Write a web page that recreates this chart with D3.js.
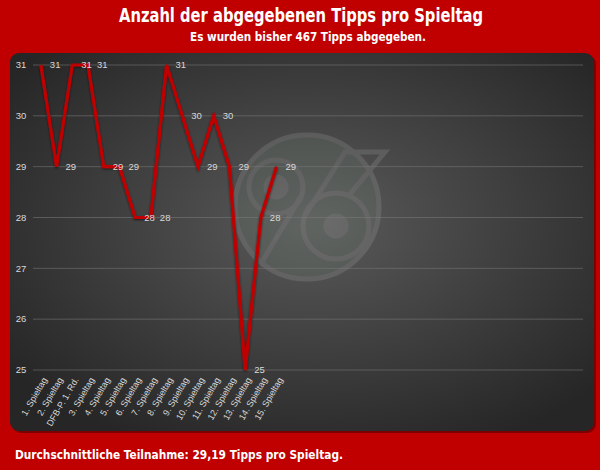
<!DOCTYPE html>
<html>
<head>
<meta charset="utf-8">
<script src="https://cdn.jsdelivr.net/npm/d3@7"></script>
<style>
  body { margin: 0; background: #c00000; }
  svg { display: block; }
</style>
</head>
<body>
<div id="chart"></div>
<script>
var categories = ["1. Spieltag", "2. Spieltag", "DFB-P. 1. Rd.", "3. Spieltag", "4. Spieltag",
    "5. Spieltag", "6. Spieltag", "7. Spieltag", "8. Spieltag", "9. Spieltag", "10. Spieltag",
    "11. Spieltag", "12. Spieltag", "13. Spieltag", "14. Spieltag", "15. Spieltag"];
var tipps = [31, 29, 31, 31, 29, 29, 28, 28, 31, 30, 29, 30, 29, 25, 28, 29];
var yTicks = [25, 26, 27, 28, 29, 30, 31];
// season has 34 Spieltage + Pokal round, the rest are still empty
var slotCount = 35;

var width = 600,
    height = 470;

var svg = d3.select("#chart").append("svg")
    .attr("width", width)
    .attr("height", height);

var defs = svg.append("defs");
var grad = defs.append("radialGradient")
    .attr("id", "panelGrad")
    .attr("cx", "52%").attr("cy", "45%").attr("r", "65%");
grad.append("stop").attr("offset", "0%").attr("stop-color", "#5a5a5a");
grad.append("stop").attr("offset", "100%").attr("stop-color", "#262626");

var shadow = defs.append("filter").attr("id", "lineShadow")
    .attr("x", "-10%").attr("y", "-10%").attr("width", "120%").attr("height", "120%");
shadow.append("feDropShadow")
    .attr("dx", 0).attr("dy", 1).attr("stdDeviation", 1)
    .attr("flood-color", "#000").attr("flood-opacity", 0.6);

svg.append("rect")
    .attr("width", width).attr("height", height)
    .attr("fill", "#c00000");

// titles
svg.append("text")
    .attr("x", 301).attr("y", 22)
    .attr("text-anchor", "middle")
    .attr("textLength", 364).attr("lengthAdjust", "spacingAndGlyphs")
    .style("font", "bold 19px 'Liberation Sans Narrow', 'DejaVu Sans Condensed', Roboto, sans-serif")
    .attr("fill", "#fff")
    .text("Anzahl der abgegebenen Tipps pro Spieltag");

svg.append("text")
    .attr("x", 308).attr("y", 41)
    .attr("text-anchor", "middle")
    .attr("textLength", 236).attr("lengthAdjust", "spacingAndGlyphs")
    .style("font", "bold 13px 'Liberation Sans Narrow', 'DejaVu Sans Condensed', Roboto, sans-serif")
    .attr("fill", "#fff")
    .text("Es wurden bisher " + d3.sum(tipps) + " Tipps abgegeben.");

// chart panel
svg.append("rect")
    .attr("x", 12).attr("y", 55)
    .attr("width", 584).attr("height", 378)
    .attr("rx", 9)
    .attr("fill", "#000").attr("opacity", 0.35);
svg.append("rect")
    .attr("x", 10).attr("y", 53)
    .attr("width", 584).attr("height", 378)
    .attr("rx", 9)
    .attr("fill", "url(#panelGrad)");

// faint club logo watermark (ring + stylised "96")
var logo = svg.append("g").attr("opacity", 0.16)
    .attr("fill", "none").attr("stroke", "#c8c8c8").attr("stroke-width", 5);
logo.append("circle")
    .attr("cx", 307).attr("cy", 207).attr("r", 72)
    .attr("fill", "#7f9c84");
logo.append("circle").attr("cx", 276).attr("cy", 187).attr("r", 27);
logo.append("circle").attr("cx", 276).attr("cy", 187).attr("r", 10).attr("fill", "#c8c8c8");
logo.append("path").attr("d", "M300,198 L262,262");
logo.append("circle").attr("cx", 336).attr("cy", 226).attr("r", 33);
logo.append("circle").attr("cx", 336).attr("cy", 226).attr("r", 10).attr("fill", "#c8c8c8");
logo.append("path").attr("d", "M306,214 L345,152 L385,152 L350,194");

var x = d3.scaleBand()
    .domain(d3.range(slotCount))
    .range([33, 583]);

var y = d3.scaleLinear()
    .domain([25, 31])
    .range([370, 65]);

function cx(i) {
    return x(i) + x.bandwidth() / 2;
}

// gridlines
svg.append("g")
    .selectAll("line")
    .data(yTicks)
    .enter().append("line")
    .attr("x1", 33).attr("x2", 583)
    .attr("y1", function(d) { return y(d); })
    .attr("y2", function(d) { return y(d); })
    .attr("stroke", "#7a7a7a")
    .attr("stroke-opacity", 0.55)
    .attr("stroke-width", 1);

var tickFont = "9.5px 'Liberation Sans', Arial, sans-serif";

svg.append("g")
    .selectAll("text")
    .data(yTicks)
    .enter().append("text")
    .attr("x", 21)
    .attr("y", function(d) { return y(d); })
    .attr("dy", "0.35em")
    .attr("text-anchor", "middle")
    .style("font", tickFont)
    .attr("fill", "#d9d9d9")
    .text(function(d) { return d; });

// x labels
svg.append("g")
    .selectAll("text")
    .data(categories)
    .enter().append("text")
    .attr("transform", function(d, i) {
        return "translate(" + (cx(i) + 4) + ",378) rotate(-60)";
    })
    .attr("text-anchor", "end")
    .attr("dy", "0.35em")
    .style("font", "9px 'Liberation Sans', Arial, sans-serif")
    .attr("fill", "#d9d9d9")
    .text(function(d) { return d; });

var line = d3.line()
    .x(function(d, i) { return cx(i); })
    .y(function(d) { return y(d); });

svg.append("path")
    .datum(tipps)
    .attr("d", line)
    .attr("fill", "none")
    .attr("stroke", "#c00000")
    .attr("stroke-width", 3.2)
    .attr("stroke-linejoin", "miter")
    .attr("filter", "url(#lineShadow)");

// data labels
svg.append("g")
    .selectAll("text")
    .data(tipps)
    .enter().append("text")
    .attr("x", function(d, i) { return cx(i) + 9; })
    .attr("y", function(d) { return y(d); })
    .attr("dy", "0.35em")
    .style("font", tickFont)
    .attr("fill", "#d9d9d9")
    .text(function(d) { return d; });

// footer
var avg = d3.mean(tipps);
svg.append("text")
    .attr("x", 15).attr("y", 459)
    .attr("textLength", 328).attr("lengthAdjust", "spacingAndGlyphs")
    .style("font", "bold 13px 'Liberation Sans Narrow', 'DejaVu Sans Condensed', Roboto, sans-serif")
    .attr("fill", "#fff")
    .text("Durchschnittliche Teilnahme: " + avg.toFixed(2).replace(".", ",") + " Tipps pro Spieltag.");
</script>
</body>
</html>
